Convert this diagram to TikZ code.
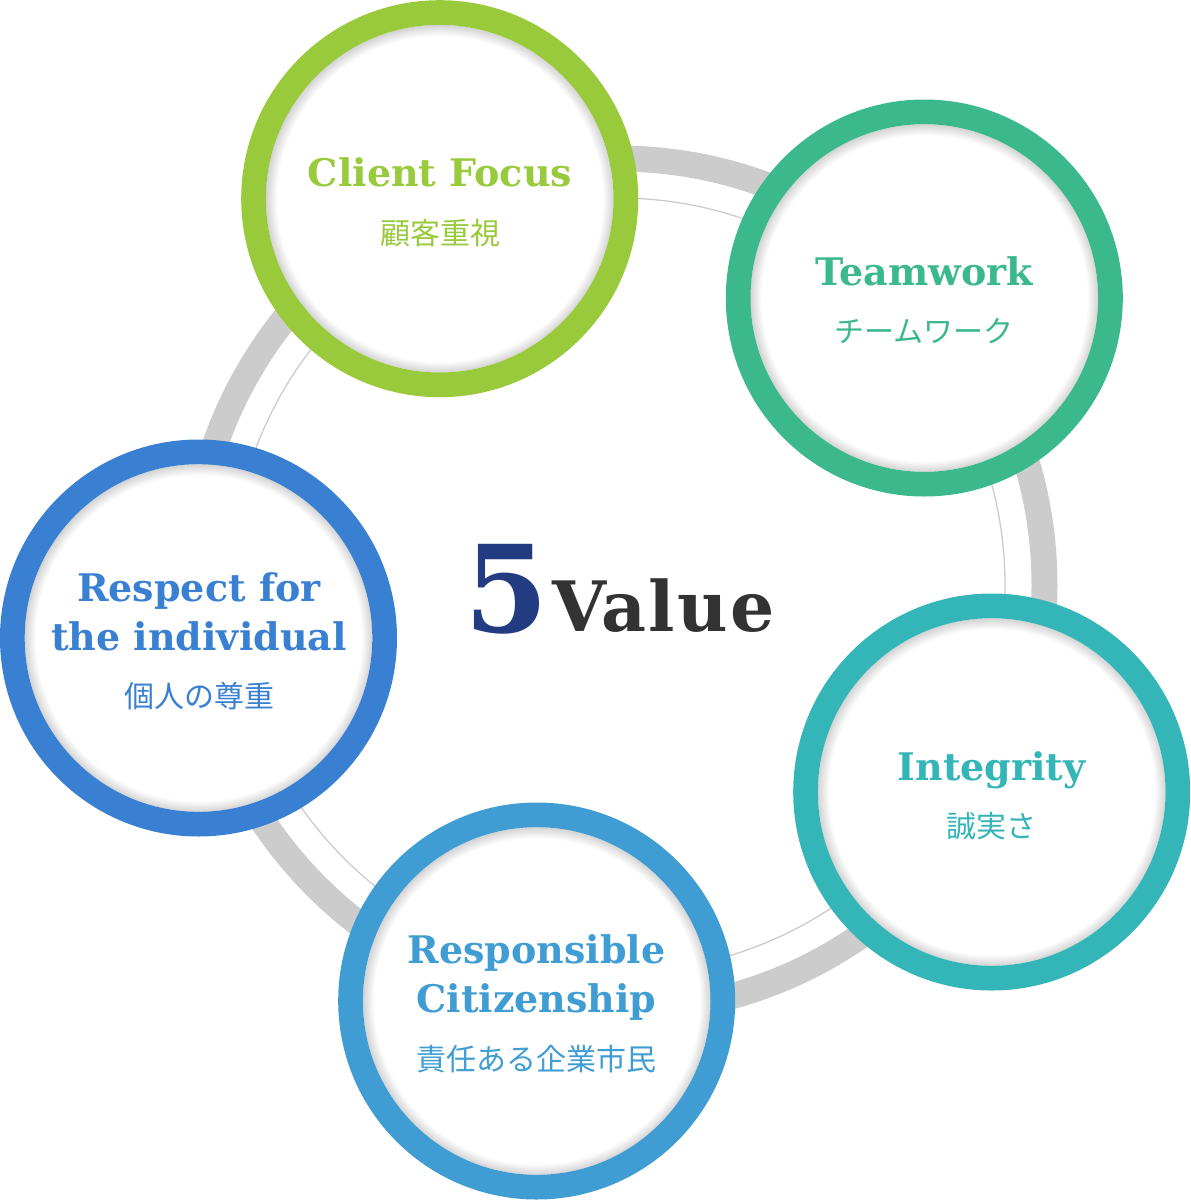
\documentclass[tikz,border=0pt]{standalone}
\usepackage{fontspec}
\newfontfamily\serifbold{DejaVu Serif Bold}
\newfontfamily\jpfont{Noto Sans CJK JP}
\definecolor{ringgray}{HTML}{CCCCCC}
\definecolor{clientgreen}{HTML}{99CA3C}
\definecolor{teamgreen}{HTML}{3BB98C}
\definecolor{integteal}{HTML}{34B5B8}
\definecolor{citizenblue}{HTML}{409DD4}
\definecolor{respectblue}{HTML}{3A80D2}
\definecolor{fivenavy}{HTML}{233B80}
\definecolor{valuegray}{HTML}{333333}
\pgfdeclareradialshading{innershade}{\pgfpointorigin}{color(0bp)=(white); color(23.4bp)=(white); color(25bp)=(black!17); color(50bp)=(black!17)}
\begin{document}
\begin{tikzpicture}[x=1pt,y=-1pt,
    ring/.style={line width=24.7pt},
    inside/.style={shading=innershade},
    entext/.style={anchor=base,inner sep=0pt,font=\serifbold\fontsize{38}{38}\selectfont},
    jptext/.style={anchor=base,inner sep=0pt,font=\jpfont\fontsize{30}{30}\selectfont}]
\useasboundingbox (0,0) rectangle (1191,1200);
% grey ring behind
\draw[line width=26pt,ringgray] (618,585) circle (426.5);
\draw[line width=1.3pt,ringgray] (618,585) circle (387);
% Client Focus
\shade[inside] (439.7,198.7) circle (173.8);
\draw[ring,clientgreen] (439.7,198.7) circle (186.15);
\node[entext,clientgreen] (client) at (440,186) {Client Focus};
\node[jptext,clientgreen] (clientjp) at (440,244) {顧客重視};
% Teamwork
\shade[inside] (924.3,298) circle (173.8);
\draw[ring,teamgreen] (924.3,298) circle (186.15);
\node[entext,teamgreen] (team) at (924.3,285) {Teamwork};
\node[jptext,teamgreen] (teamjp) at (924.3,342) {チームワーク};
% Integrity
\shade[inside] (991.7,792) circle (173.8);
\draw[ring,integteal] (991.7,792) circle (186.15);
\node[entext,integteal] (integ) at (991.5,780) {Integrity};
\node[jptext,integteal] (integjp) at (991.5,837) {誠実さ};
% Responsible Citizenship
\shade[inside] (536.7,1001) circle (173.8);
\draw[ring,citizenblue] (536.7,1001) circle (186.15);
\node[entext,citizenblue] (citizen) at (536.5,963.3) {Responsible};
\node[entext,citizenblue] (citizen2) at (536.5,1012.3) {Citizenship};
\node[jptext,citizenblue] (citizenjp) at (536.5,1070.5) {責任ある企業市民};
% Respect for the individual
\shade[inside] (198.5,638) circle (173.8);
\draw[ring,respectblue] (198.5,638) circle (186.15);
\node[entext,respectblue] (respect) at (199,601.7) {Respect for};
\node[entext,respectblue] (respect2) at (199,650) {the individual};
\node[jptext,respectblue] (respectjp) at (199,707) {個人の尊重};
% centre
\node[anchor=base west,inner sep=0pt,fivenavy,font=\serifbold\fontsize{121}{121}\selectfont] (five) at (464,632) {5};
\node[anchor=base west,inner sep=0pt,valuegray,font=\serifbold\fontsize{69.5}{69.5}\selectfont\addfontfeature{LetterSpace=3}] (value) at (552,631) {Value};
\end{tikzpicture}
\end{document}
